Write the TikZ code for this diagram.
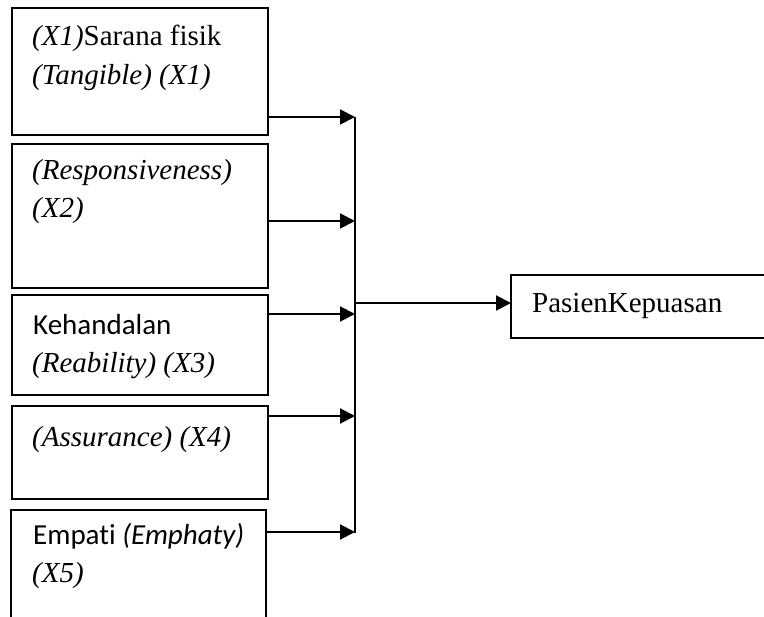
\documentclass[tikz,border=0pt]{standalone}
\usepackage{fontspec}
\setmainfont[Ligatures=NoCommon]{Liberation Serif}
\newfontfamily\calib[Ligatures=NoCommon,RawFeature={-liga;-clig;-calt;-dlig}]{Carlito}
\usetikzlibrary{arrows.meta}
\tikzset{
  box/.style={draw, line width=2pt, anchor=north west, inner sep=0pt, outer sep=0pt},
  lbl/.style={anchor=base west, inner sep=0pt, font=\fontsize{29}{38}\selectfont},
  conn/.style={line width=2pt, -{Triangle[length=15pt,width=15pt]}},
  bus/.style={line width=1.7pt}
}
\begin{document}
\begin{tikzpicture}[x=1pt,y=-1pt]
\useasboundingbox (0,0) rectangle (764,617);
\clip (0,0) rectangle (764,617);
% boxes
\node[box, minimum width=256pt, minimum height=127pt] (b1) at (12,8) {};
\node[box, minimum width=256pt, minimum height=144pt] (b2) at (12,144) {};
\node[box, minimum width=256pt, minimum height=100pt] (b3) at (12,295) {};
\node[box, minimum width=256pt, minimum height=93pt] (b4) at (12,406) {};
\node[box, minimum width=255pt, minimum height=140pt] (b5) at (11,510) {};
\node[box, minimum width=300pt, minimum height=63pt] (y) at (511,275) {};
% texts
\node[lbl] (t1a) at (32,46) {\textit{(X1)}Sarana fisik};
\node[lbl] (t1b) at (32,85) {\textit{(Tangible) (X1)}};
\node[lbl] (t2a) at (32,180) {\textit{(Responsiveness)}};
\node[lbl] (t2b) at (32,218) {\textit{(X2)}};
\node[lbl] (t3a) at (33,335) {\calib Kehandalan};
\node[lbl] (t3b) at (32,373) {\textit{(Reability) (X3)}};
\node[lbl] (t4a) at (32,447) {\textit{(Assurance) (X4)}};
\node[lbl] (t5a) at (33,545) {\calib Empati \textit{(Emphaty)}};
\node[lbl] (t5b) at (32,583) {\textit{(X5)}};
\node[lbl] (ty) at (532,313) {PasienKepuasan};
% bus
\coordinate (p1) at (355,117);
\coordinate (p2) at (355,221);
\coordinate (p3) at (355,314);
\coordinate (p4) at (355,416);
\coordinate (p5) at (355,532);
\coordinate (po) at (355,303);
\draw[bus] (p1) -- (355,533);
\draw[conn] (b1.east |- p1) -- (p1);
\draw[conn] (b2.east |- p2) -- (p2);
\draw[conn] (b3.east |- p3) -- (p3);
\draw[conn] (b4.east |- p4) -- (p4);
\draw[conn] (b5.east |- p5) -- (p5);
\draw[conn] (po) -- (y.west |- po);
\end{tikzpicture}
\end{document}
